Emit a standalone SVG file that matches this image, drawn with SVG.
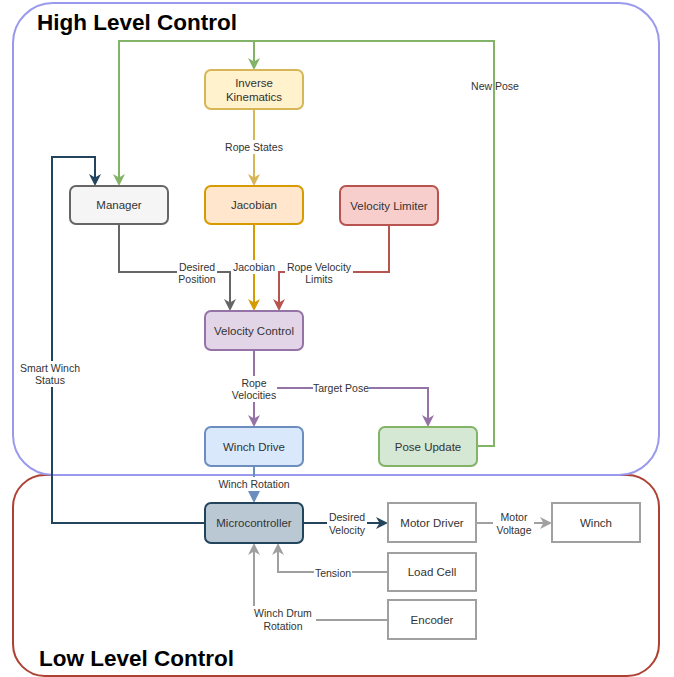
<svg xmlns="http://www.w3.org/2000/svg" width="674" height="677" viewBox="0 0 674 677">
<defs>
<style>
.node text{font-family:"Liberation Sans",Arial,sans-serif;font-size:11.5px;fill:#333;text-anchor:middle}
.lbl{font-family:"Liberation Sans",Arial,sans-serif;font-size:10.5px;fill:#333;text-anchor:middle}
.title{font-family:"Liberation Sans",Arial,sans-serif;font-size:22.5px;font-weight:bold;fill:#000}
.edge{fill:none;stroke-width:2}
.bg{fill:#fff}
</style>
<marker id="aG" viewBox="0 0 12 12" markerWidth="12" markerHeight="12" refX="8" refY="6" orient="auto" markerUnits="userSpaceOnUse"><path d="M0,0 L12,6 L0,12 L3.5,6 Z" fill="#82b366"/></marker>
<marker id="aY" viewBox="0 0 12 12" markerWidth="12" markerHeight="12" refX="8" refY="6" orient="auto" markerUnits="userSpaceOnUse"><path d="M0,0 L12,6 L0,12 L3.5,6 Z" fill="#d6b656"/></marker>
<marker id="aO" viewBox="0 0 12 12" markerWidth="12" markerHeight="12" refX="8" refY="6" orient="auto" markerUnits="userSpaceOnUse"><path d="M0,0 L12,6 L0,12 L3.5,6 Z" fill="#d79b00"/></marker>
<marker id="aR" viewBox="0 0 12 12" markerWidth="12" markerHeight="12" refX="8" refY="6" orient="auto" markerUnits="userSpaceOnUse"><path d="M0,0 L12,6 L0,12 L3.5,6 Z" fill="#b85450"/></marker>
<marker id="aD" viewBox="0 0 12 12" markerWidth="12" markerHeight="12" refX="8" refY="6" orient="auto" markerUnits="userSpaceOnUse"><path d="M0,0 L12,6 L0,12 L3.5,6 Z" fill="#666666"/></marker>
<marker id="aP" viewBox="0 0 12 12" markerWidth="12" markerHeight="12" refX="8" refY="6" orient="auto" markerUnits="userSpaceOnUse"><path d="M0,0 L12,6 L0,12 L3.5,6 Z" fill="#9673a6"/></marker>
<marker id="aN" viewBox="0 0 12 12" markerWidth="12" markerHeight="12" refX="8" refY="6" orient="auto" markerUnits="userSpaceOnUse"><path d="M0,0 L12,6 L0,12 L3.5,6 Z" fill="#23445d"/></marker>
<marker id="aL" viewBox="0 0 12 12" markerWidth="12" markerHeight="12" refX="8" refY="6" orient="auto" markerUnits="userSpaceOnUse"><path d="M0,0 L12,6 L0,12 L3.5,6 Z" fill="#a0a0a0"/></marker>
<marker id="aB" viewBox="0 0 12 12" markerWidth="12" markerHeight="12" refX="4" refY="6" orient="auto" markerUnits="userSpaceOnUse"><path d="M0,0 L12,6 L0,12 Z" fill="#6c8ebf"/></marker>
</defs>
<rect width="674" height="677" fill="#fff"/>

<g id="low-level-control">
<rect x="13" y="475" width="646" height="201" rx="32" fill="none" stroke="#ae4132" stroke-width="2"/>
<text class="title" x="39" y="666">Low Level Control</text>
</g>
<g id="high-level-control">
<rect x="13" y="3" width="646" height="472" rx="40" fill="none" stroke="#9999ee" stroke-width="2"/>
<text class="title" x="37" y="30">High Level Control</text>
</g>

<g id="connectors">
<path class="edge" stroke="#82b366" d="M477,446 H494 V41 H119 V182" marker-end="url(#aG)"/>
<path class="edge" stroke="#82b366" d="M254,41 V66" marker-end="url(#aG)"/>
<text class="lbl" x="495" y="90">New Pose</text>

<path class="edge" stroke="#d6b656" d="M254,109 V182" marker-end="url(#aY)"/>
<rect class="bg" x="224" y="140" width="60" height="14"/>
<text class="lbl" x="254" y="151">Rope States</text>

<path class="edge" stroke="#666666" d="M119,224 V272 H230 V307" marker-end="url(#aD)"/>
<rect class="bg" x="177" y="260" width="40" height="26"/>
<text class="lbl" x="197" y="271">Desired</text>
<text class="lbl" x="197" y="283">Position</text>

<path class="edge" stroke="#d79b00" d="M254,224 V307" marker-end="url(#aO)"/>
<rect class="bg" x="232" y="260" width="44" height="14"/>
<text class="lbl" x="254" y="271">Jacobian</text>

<path class="edge" stroke="#b85450" d="M389,225 V272 H279 V307" marker-end="url(#aR)"/>
<rect class="bg" x="285" y="260" width="68" height="26"/>
<text class="lbl" x="319" y="271">Rope Velocity</text>
<text class="lbl" x="319" y="283">Limits</text>

<path class="edge" stroke="#23445d" d="M205,523 H52 V157 H95 V182" marker-end="url(#aN)"/>
<rect class="bg" x="18" y="361" width="64" height="26"/>
<text class="lbl" x="50" y="372">Smart Winch</text>
<text class="lbl" x="50" y="384">Status</text>

<path class="edge" stroke="#9673a6" d="M254,350 V423" marker-end="url(#aP)"/>
<path class="edge" stroke="#9673a6" d="M254,388 H428 V423" marker-end="url(#aP)"/>
<rect class="bg" x="231" y="376" width="46" height="26"/>
<text class="lbl" x="254" y="387">Rope</text>
<text class="lbl" x="254" y="399">Velocities</text>
<rect class="bg" x="313" y="381" width="56" height="14"/>
<text class="lbl" x="341" y="392">Target Pose</text>

<path class="edge" stroke="#6c8ebf" d="M254,466 V495" marker-end="url(#aB)"/>
<rect class="bg" x="218" y="477" width="73" height="14"/>
<text class="lbl" x="254" y="488">Winch Rotation</text>

<path class="edge" stroke="#23445d" d="M303,523 H384" marker-end="url(#aN)"/>
<rect class="bg" x="327" y="510" width="40" height="26"/>
<text class="lbl" x="347" y="521">Desired</text>
<text class="lbl" x="347" y="534">Velocity</text>

<path class="edge" stroke="#a0a0a0" d="M476,523 H548" marker-end="url(#aL)"/>
<rect class="bg" x="493" y="510" width="41" height="26"/>
<text class="lbl" x="514" y="521">Motor</text>
<text class="lbl" x="514" y="534">Voltage</text>

<path class="edge" stroke="#a0a0a0" d="M388,572 H278 V547" marker-end="url(#aL)"/>
<rect class="bg" x="314" y="566" width="38" height="14"/>
<text class="lbl" x="333" y="577">Tension</text>

<path class="edge" stroke="#a0a0a0" d="M388,620 H254 V547" marker-end="url(#aL)"/>
<rect class="bg" x="250" y="606" width="66" height="26"/>
<text class="lbl" x="283" y="617">Winch Drum</text>
<text class="lbl" x="283" y="630">Rotation</text>
</g>

<g id="inverse-kinematics" class="node">
<rect x="205" y="70" width="98" height="39" rx="6" fill="#fff2cc" stroke="#d6b656" stroke-width="2"/>
<text x="254" y="87">Inverse</text>
<text x="254" y="101">Kinematics</text>
</g>
<g id="manager" class="node">
<rect x="70" y="186" width="98" height="38" rx="6" fill="#f5f5f5" stroke="#666666" stroke-width="2"/>
<text x="119" y="209">Manager</text>
</g>
<g id="jacobian" class="node">
<rect x="205" y="186" width="98" height="38" rx="6" fill="#ffe6cc" stroke="#d79b00" stroke-width="2"/>
<text x="254" y="209">Jacobian</text>
</g>
<g id="velocity-limiter" class="node">
<rect x="340" y="186" width="98" height="39" rx="6" fill="#f8cecc" stroke="#b85450" stroke-width="2"/>
<text x="389" y="210">Velocity Limiter</text>
</g>
<g id="velocity-control" class="node">
<rect x="205" y="311" width="98" height="39" rx="6" fill="#e1d5e7" stroke="#9673a6" stroke-width="2"/>
<text x="254" y="335">Velocity Control</text>
</g>
<g id="winch-drive" class="node">
<rect x="205" y="427" width="98" height="39" rx="6" fill="#dae8fc" stroke="#6c8ebf" stroke-width="2"/>
<text x="254" y="451">Winch Drive</text>
</g>
<g id="pose-update" class="node">
<rect x="379" y="427" width="98" height="39" rx="6" fill="#d5e8d4" stroke="#82b366" stroke-width="2"/>
<text x="428" y="451">Pose Update</text>
</g>
<g id="microcontroller" class="node">
<rect x="205" y="503" width="98" height="40" rx="6" fill="#bac8d3" stroke="#23445d" stroke-width="2"/>
<text x="254" y="527">Microcontroller</text>
</g>
<g id="motor-driver" class="node">
<rect x="388" y="503" width="88" height="39" fill="#fff" stroke="#a0a0a0" stroke-width="2"/>
<text x="432" y="527">Motor Driver</text>
</g>
<g id="winch" class="node">
<rect x="552" y="503" width="88" height="39" fill="#fff" stroke="#a0a0a0" stroke-width="2"/>
<text x="596" y="527">Winch</text>
</g>
<g id="load-cell" class="node">
<rect x="388" y="553" width="88" height="38" fill="#fff" stroke="#a0a0a0" stroke-width="2"/>
<text x="432" y="576">Load Cell</text>
</g>
<g id="encoder" class="node">
<rect x="388" y="600" width="88" height="39" fill="#fff" stroke="#a0a0a0" stroke-width="2"/>
<text x="432" y="624">Encoder</text>
</g>
</svg>
